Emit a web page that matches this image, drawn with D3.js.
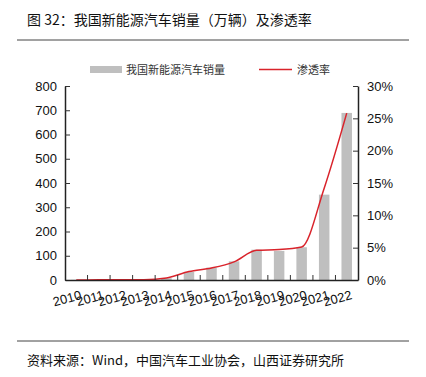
<!DOCTYPE html>
<html lang="zh">
  <head>
    <meta charset="utf-8" />
    <title>我国新能源汽车销量及渗透率</title>
    <script src="https://d3js.org/d3.v7.min.js"></script>
    <style>
      body { margin: 0; background: #fff; }
    </style>
  </head>
  <body>
    <div id="chart"></div>
    <script>
      var years = ["2010", "2011", "2012", "2013", "2014", "2015", "2016", "2017", "2018", "2019", "2020", "2021", "2022"];
      var sales = [0.5, 0.8, 1.3, 1.8, 7.5, 33, 51, 77, 125, 120, 135, 352, 689];
      var rate = [0.01, 0.02, 0.03, 0.04, 0.3, 1.3, 1.85, 2.8, 4.6, 4.7, 5.1, 14.2, 25.8];
      var leftTicks = [0, 100, 200, 300, 400, 500, 600, 700, 800];
      var rightTicks = [0, 5, 10, 15, 20, 25, 30];

      var W = 426, H = 377;
      var plotLeft = 65, plotRight = 358, plotTop = 86, plotBottom = 280;
      var cjk = "'Noto Sans CJK SC', sans-serif";
      var latin = "'Liberation Sans', Arial, sans-serif";

      var svg = d3.select("#chart").append("svg").attr("width", W).attr("height", H);

      // title and rules
      svg.append("text").attr("x", 27).attr("y", 25)
        .style("font-family", cjk).style("font-size", "14px").attr("fill", "#111")
        .text("图 32：我国新能源汽车销量（万辆）及渗透率");
      svg.append("line").attr("x1", 17).attr("x2", 409).attr("y1", 40).attr("y2", 40)
        .attr("stroke", "#444").attr("stroke-width", 1);
      svg.append("line").attr("x1", 17).attr("x2", 409).attr("y1", 341).attr("y2", 341)
        .attr("stroke", "#444").attr("stroke-width", 1);
      svg.append("text").attr("x", 27).attr("y", 365)
        .style("font-family", cjk).style("font-size", "13px").attr("fill", "#111")
        .text("资料来源：Wind，中国汽车工业协会，山西证券研究所");

      var x = d3.scaleBand().domain(years).range([plotLeft, plotRight]).padding(0);
      var yL = d3.scaleLinear().domain([0, 800]).range([plotBottom, plotTop]);
      var yR = d3.scaleLinear().domain([0, 30]).range([plotBottom, plotTop]);

      // bars
      var bw = 10.5;
      svg.selectAll("rect.bar").data(years).enter().append("rect")
        .attr("class", "bar")
        .attr("x", function (d) { return x(d) + x.bandwidth() / 2 - bw / 2; })
        .attr("width", bw)
        .attr("y", function (d, i) { return yL(sales[i]); })
        .attr("height", function (d, i) { return plotBottom - yL(sales[i]); })
        .attr("fill", "#bfbfbf");

      // line
      var line = d3.line()
        .x(function (d, i) { return x(years[i]) + x.bandwidth() / 2; })
        .y(function (d) { return yR(d); })
        .curve(d3.curveMonotoneX);
      svg.append("path").datum(rate).attr("d", line)
        .attr("fill", "none").attr("stroke", "#d9232b").attr("stroke-width", 1.5);

      // axes
      var axL = svg.append("g").attr("transform", "translate(" + plotLeft + ",0)")
        .call(d3.axisLeft(yL).tickValues(leftTicks).tickSizeInner(-5).tickSizeOuter(0).tickPadding(8));
      var axR = svg.append("g").attr("transform", "translate(" + plotRight + ",0)")
        .call(d3.axisRight(yR).tickValues(rightTicks).tickSizeInner(-5).tickSizeOuter(0).tickPadding(9)
          .tickFormat(function (d) { return d + "%"; }));
      var axB = svg.append("g").attr("transform", "translate(0," + plotBottom + ")")
        .call(d3.axisBottom(x).tickSize(0).tickFormat(""));
      // category boundary ticks
      svg.selectAll("line.xt").data(years.slice(1)).enter().append("line")
        .attr("class", "xt")
        .attr("x1", function (d) { return x(d); }).attr("x2", function (d) { return x(d); })
        .attr("y1", plotBottom).attr("y2", plotBottom - 5)
        .attr("stroke", "#333").attr("stroke-width", 1);

      [axL, axR, axB].forEach(function (g) {
        g.select(".domain").attr("stroke", "#222").attr("stroke-width", 1.5);
        g.selectAll(".tick line").attr("stroke", "#333");
        g.selectAll("text").style("font-family", latin).style("font-size", "13px").attr("fill", "#111");
      });

      // rotated year labels
      svg.selectAll("text.yr").data(years).enter().append("text")
        .attr("class", "yr")
        .attr("text-anchor", "end")
        .attr("transform", function (d) {
          return "translate(" + (x(d) + x.bandwidth() / 2 + 6) + "," + (plotBottom + 19) + ") rotate(-15)";
        })
        .style("font-family", latin).style("font-size", "13px").attr("fill", "#111")
        .text(function (d) { return d; });

      // legend
      var lg = svg.append("g");
      lg.append("rect").attr("x", 90).attr("y", 66).attr("width", 32).attr("height", 7).attr("fill", "#bfbfbf");
      lg.append("text").attr("x", 126).attr("y", 74)
        .style("font-family", cjk).style("font-size", "11px").attr("fill", "#333")
        .text("我国新能源汽车销量");
      lg.append("line").attr("x1", 259).attr("x2", 292).attr("y1", 69.5).attr("y2", 69.5)
        .attr("stroke", "#d9232b").attr("stroke-width", 1.5);
      lg.append("text").attr("x", 297).attr("y", 74)
        .style("font-family", cjk).style("font-size", "11px").attr("fill", "#333")
        .text("渗透率");
    </script>
  </body>
</html>
